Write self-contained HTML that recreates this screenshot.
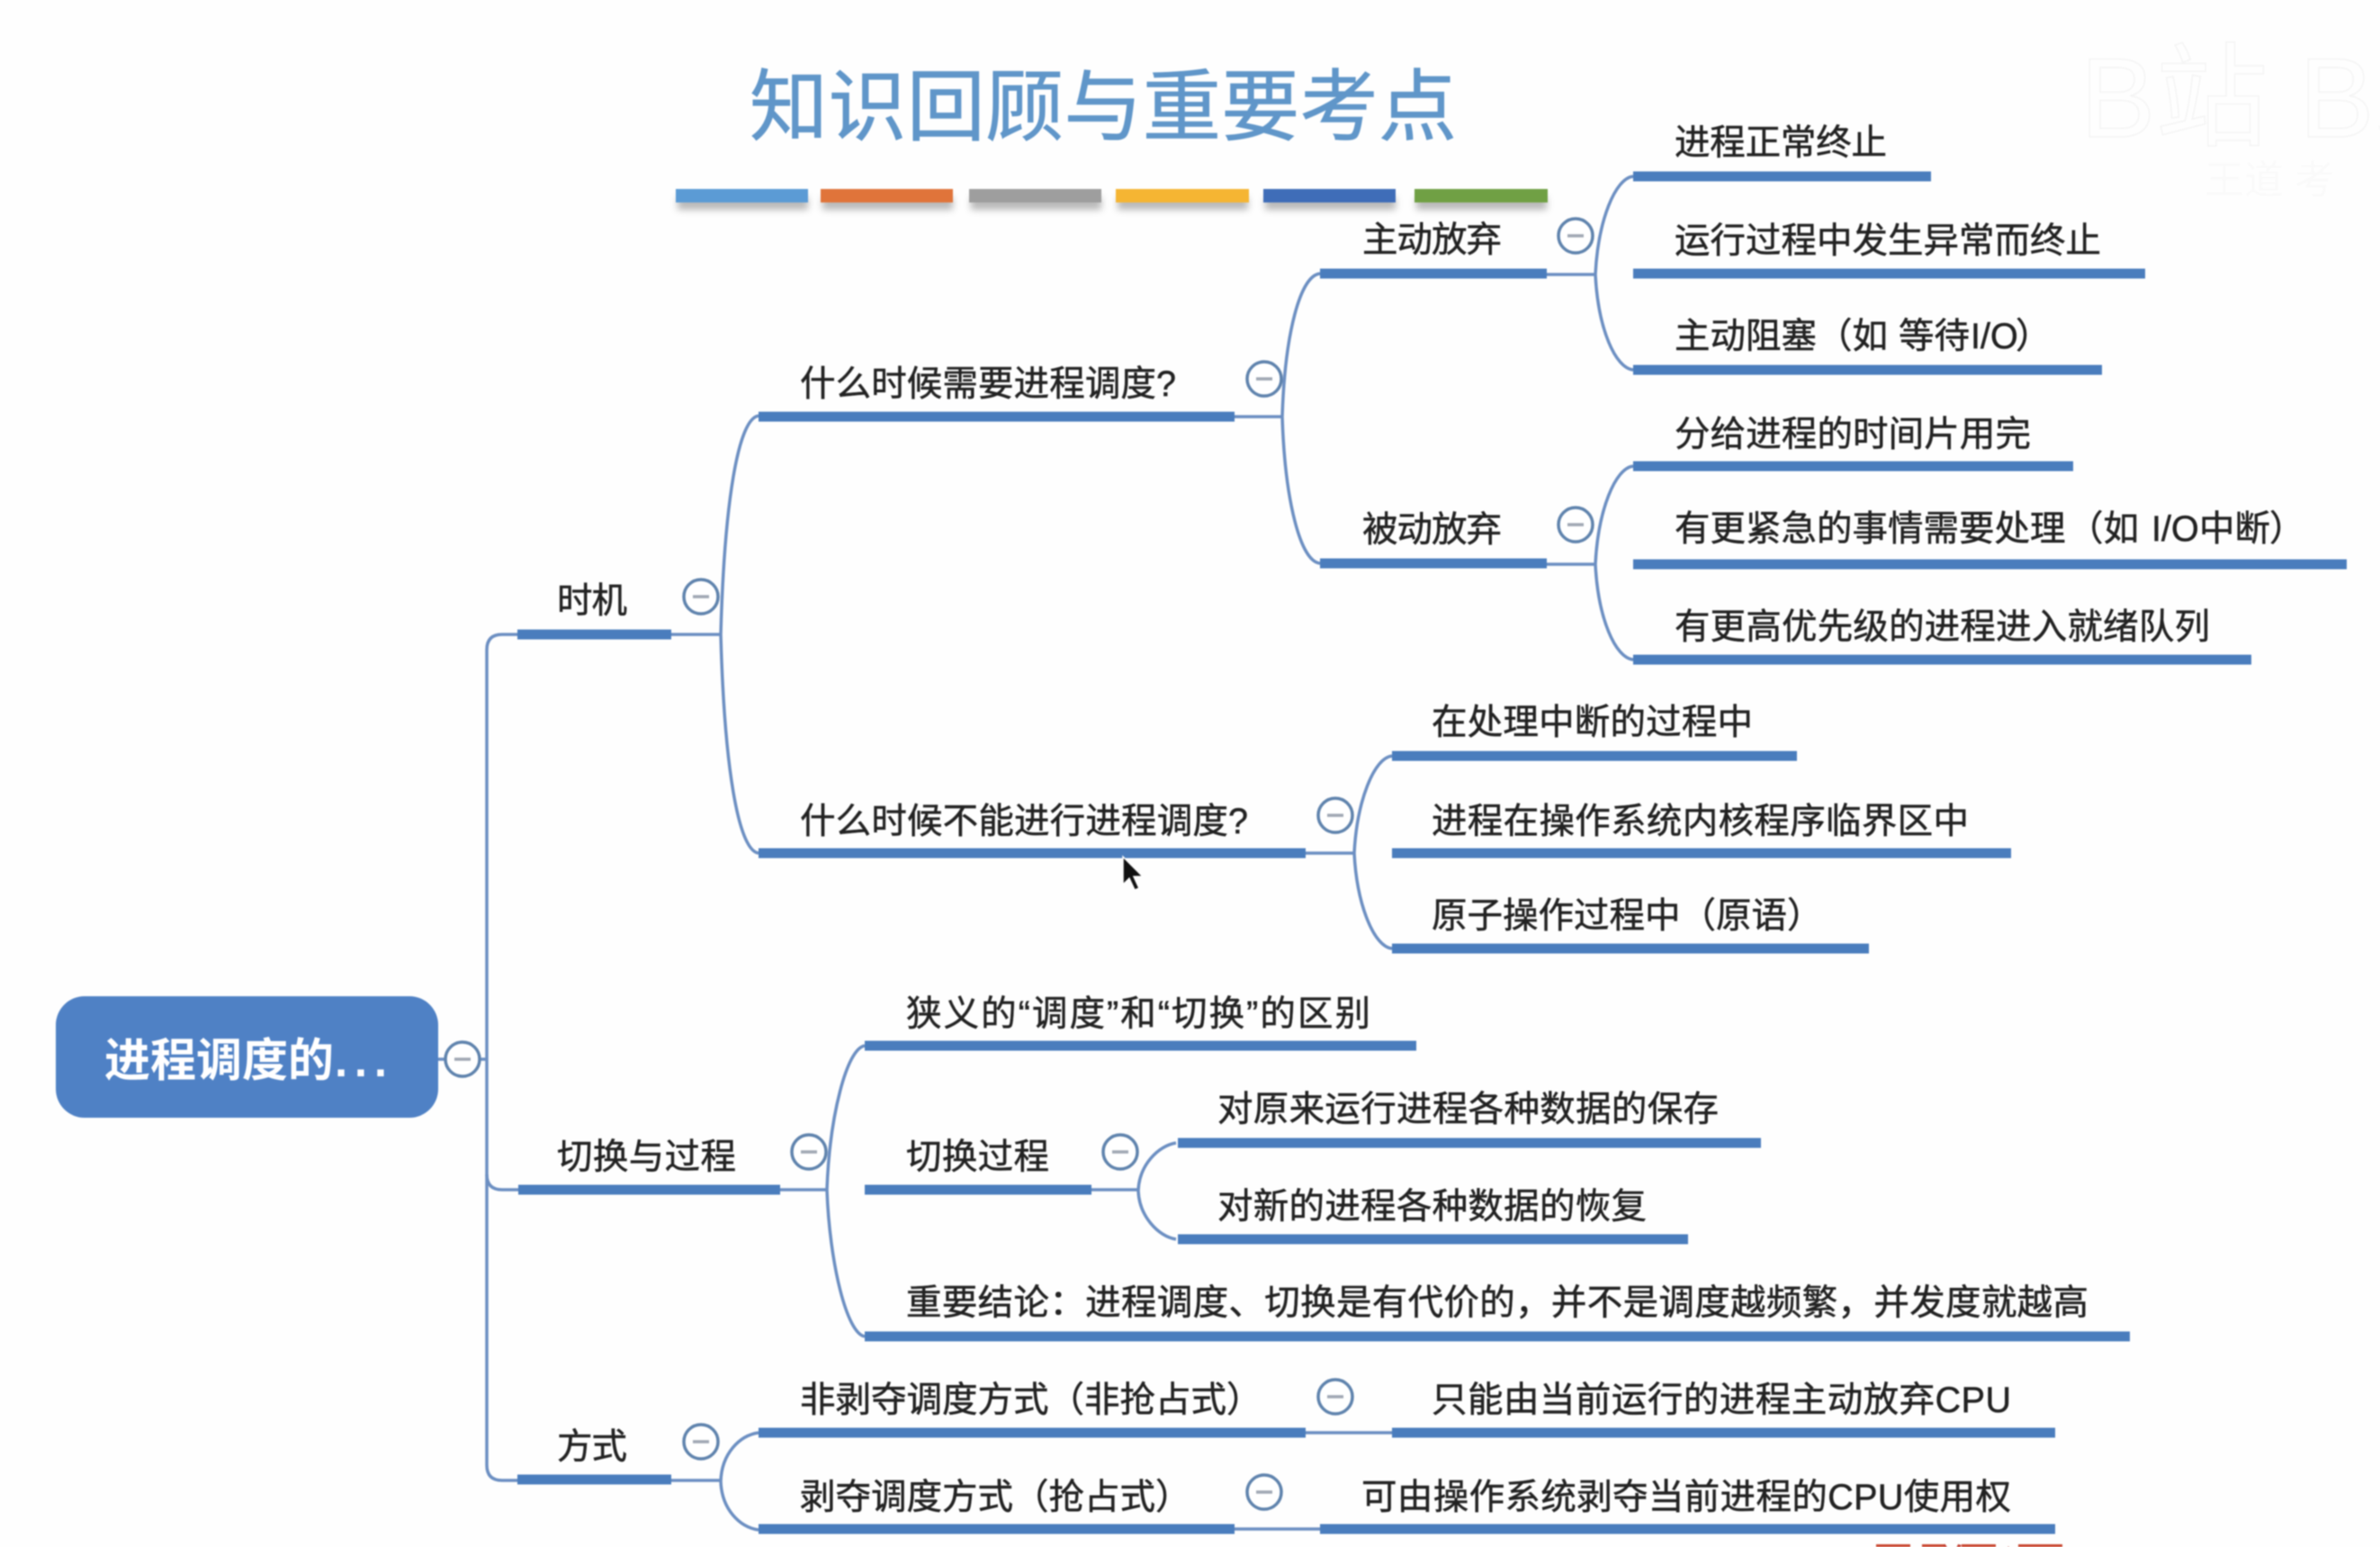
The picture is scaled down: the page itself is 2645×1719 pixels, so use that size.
<!DOCTYPE html>
<html lang="zh"><head><meta charset="utf-8"><title>知识回顾与重要考点</title>
<style>
html,body{margin:0;padding:0;background:#fefefe;width:2645px;height:1719px;overflow:hidden}
svg{display:block;filter:blur(.7px)}
text{font-family:"Liberation Sans","Noto Sans CJK SC",sans-serif;font-size:39.5px;fill:#222;stroke:#222;stroke-width:.5px}
.u{stroke:#4a7dbd;stroke-width:11;fill:none}
.l{stroke:#6c8fc2;stroke-width:3.5;fill:none}
.c{fill:#fff;stroke:#5f83ad;stroke-width:3.5}
.d{stroke:#a0a8b4;stroke-width:3.5}
</style></head><body>
<svg xmlns="http://www.w3.org/2000/svg" width="2645" height="1719" viewBox="0 0 2645 1719">
<defs><filter id="s" x="-10%" y="-100%" width="120%" height="300%"><feGaussianBlur stdDeviation="4"/></filter></defs>
<rect width="2645" height="1719" fill="#fefefe"/>
<!-- watermark -->
<text x="2312" y="152" style="font-size:125px;fill:none;stroke:#f4f4f4;stroke-width:1.5px">B站 B站</text>
<text x="2450" y="215" style="font-size:44px;fill:#fafafa;stroke:none">王道 考</text>
<!-- title -->
<text x="833" y="149" textLength="786" style="font-size:87px;fill:#6096c9;stroke:#6096c9;stroke-width:.8px">知识回顾与重要考点</text>
<!-- bars -->
<g filter="url(#s)" fill="#999" opacity=".7">
<rect x="753" y="219" width="145" height="14"/><rect x="914" y="219" width="145" height="14"/><rect x="1079" y="219" width="145" height="14"/><rect x="1242" y="219" width="145" height="14"/><rect x="1406" y="219" width="145" height="14"/><rect x="1574" y="219" width="145" height="14"/>
</g>
<rect x="751" y="210" width="147" height="15" fill="#5b9bd5"/>
<rect x="912" y="210" width="147" height="15" fill="#e0743a"/>
<rect x="1077" y="210" width="147" height="15" fill="#9e9e9e"/>
<rect x="1240" y="210" width="148" height="15" fill="#f5b533"/>
<rect x="1404" y="210" width="147" height="15" fill="#3f6db8"/>
<rect x="1572" y="210" width="148" height="15" fill="#70a044"/>
<!-- root -->
<rect x="62" y="1107" width="425" height="135" rx="32" fill="#4f81c5"/>
<text y="1196" style="font-size:51px;font-weight:700;fill:#fff;stroke:none"><tspan x="116">进程调度的</tspan><tspan x="372" textLength="58">...</tspan></text>
<!-- connectors -->
<g class="l">
<path d="M487,1177H541"/>
<path d="M575,705H558Q541,705 541,722V1628Q541,1645 558,1645H575"/>
<path d="M541,1305Q541,1322 558,1322H576"/>
<path d="M746,705H801"/>
<path d="M843,462C820,465 805,560 801,705C805,850 820,945 843,948"/>
<path d="M1372,463H1425"/>
<path d="M1467,304C1445,306 1428,370 1425,463C1428,556 1445,624 1467,626"/>
<path d="M1719,305H1773"/>
<path d="M1815,196C1795,198 1776,245 1773,305C1776,365 1795,409 1815,411"/>
<path d="M1719,627H1773"/>
<path d="M1815,518C1795,520 1776,567 1773,627C1776,687 1795,731 1815,733"/>
<path d="M1451,948H1505"/>
<path d="M1547,840C1527,842 1508,890 1505,948C1508,1006 1527,1052 1547,1054"/>
<path d="M867,1322H919"/>
<path d="M961,1162C941,1165 922,1240 919,1322C922,1404 941,1482 961,1485"/>
<path d="M1213,1322H1265"/>
<path d="M1307,1270C1287,1273 1266,1295 1265,1323C1266,1351 1287,1374 1307,1377"/>
<path d="M746,1645H801"/>
<path d="M843,1592C822,1595 802,1615 801,1646C802,1677 822,1697 843,1700"/>
<path d="M1451,1592H1547"/>
<path d="M1372,1699H1467"/>
</g>
<!-- underlines -->
<g class="u">
<path d="M575,705H746"/><path d="M576,1322H867"/><path d="M575,1644H746"/>
<path d="M843,463H1372"/><path d="M843,948H1451"/>
<path d="M1467,304H1719"/><path d="M1467,626H1719"/>
<path d="M1815,196H2146"/><path d="M1815,304H2384"/><path d="M1815,411H2336"/>
<path d="M1815,518H2304"/><path d="M1815,627H2608"/><path d="M1815,733H2502"/>
<path d="M1547,840H1997"/><path d="M1547,948H2235"/><path d="M1547,1054H2077"/>
<path d="M961,1162H1574"/><path d="M961,1322H1213"/><path d="M961,1485H2367"/>
<path d="M1309,1270H1957"/><path d="M1309,1377H1876"/>
<path d="M843,1592H1451"/><path d="M843,1699H1372"/>
<path d="M1547,1592H2284"/><path d="M1467,1699H2284"/>
</g>
<!-- collapse circles -->
<g>
<circle class="c" cx="514" cy="1177" r="19"/><path class="d" d="M505,1177H523"/>
<circle class="c" cx="779" cy="663" r="19"/><path class="d" d="M770,663H788"/>
<circle class="c" cx="1405" cy="421" r="19"/><path class="d" d="M1396,421H1414"/>
<circle class="c" cx="1751" cy="262" r="19"/><path class="d" d="M1742,262H1760"/>
<circle class="c" cx="1751" cy="583" r="19"/><path class="d" d="M1742,583H1760"/>
<circle class="c" cx="1484" cy="906" r="19"/><path class="d" d="M1475,906H1493"/>
<circle class="c" cx="899" cy="1280" r="19"/><path class="d" d="M890,1280H908"/>
<circle class="c" cx="1245" cy="1280" r="19"/><path class="d" d="M1236,1280H1254"/>
<circle class="c" cx="779" cy="1602" r="19"/><path class="d" d="M770,1602H788"/>
<circle class="c" cx="1484" cy="1552" r="19"/><path class="d" d="M1475,1552H1493"/>
<circle class="c" cx="1405" cy="1658" r="19"/><path class="d" d="M1396,1658H1414"/>
</g>
<!-- labels -->
<text x="619" y="681" textLength="78">时机</text>
<text x="619" y="1299" textLength="199">切换与过程</text>
<text x="619" y="1621" textLength="78">方式</text>
<text x="889" y="440" textLength="418">什么时候需要进程调度?</text>
<text x="889" y="926" textLength="498">什么时候不能进行进程调度?</text>
<text x="1514" y="280" textLength="155">主动放弃</text>
<text x="1514" y="602" textLength="155">被动放弃</text>
<text x="1861" y="172" textLength="236">进程正常终止</text>
<text x="1861" y="281" textLength="474">运行过程中发生异常而终止</text>
<text y="387"><tspan x="1861">主动阻塞</tspan><tspan x="2019">（如</tspan><tspan x="2110">等待</tspan><tspan x="2190">I/O</tspan><tspan x="2240">）</tspan></text>
<text x="1861" y="496" textLength="396">分给进程的时间片用完</text>
<text y="601"><tspan x="1861">有更紧急的事情需要处理</tspan><tspan x="2298">（如</tspan><tspan x="2391">I/O</tspan><tspan x="2444">中断</tspan><tspan x="2522">）</tspan></text>
<text x="1861" y="710" textLength="595">有更高优先级的进程进入就绪队列</text>
<text x="1591" y="816" textLength="357">在处理中断的过程中</text>
<text x="1591" y="926" textLength="597">进程在操作系统内核程序临界区中</text>
<text x="1591" y="1031">原子操作过程中（原语）</text>
<text x="1007" y="1140" textLength="516">狭义的“调度”和“切换”的区别</text>
<text x="1007" y="1299" textLength="159">切换过程</text>
<text x="1353" y="1246" textLength="557">对原来运行进程各种数据的保存</text>
<text x="1353" y="1354" textLength="477">对新的进程各种数据的恢复</text>
<text x="1007" y="1461" textLength="1314">重要结论：进程调度、切换是有代价的，并不是调度越频繁，并发度就越高</text>
<text x="889" y="1569">非剥夺调度方式（非抢占式）</text>
<text x="889" y="1677">剥夺调度方式（抢占式）</text>
<text x="1591" y="1569" textLength="644">只能由当前运行的进程主动放弃CPU</text>
<text x="1513" y="1677" textLength="722">可由操作系统剥夺当前进程的CPU使用权</text>
<!-- cursor -->
<path d="M1248,952V983L1255,976L1261,989L1266,987L1260,974L1270,974Z" fill="#111" stroke="#fff" stroke-width="1.5"/>
<!-- clipped red text at bottom -->
<text x="2085" y="1760" textLength="207" style="font-size:52px;fill:#c0392b;stroke:none">王道考研</text>
<g fill="#c8452f"><rect x="2085" y="1716" width="38" height="3"/><rect x="2136" y="1716" width="24" height="3"/><rect x="2180" y="1716" width="38" height="3"/><rect x="2243" y="1716" width="49" height="3"/></g>
</svg>
</body></html>
